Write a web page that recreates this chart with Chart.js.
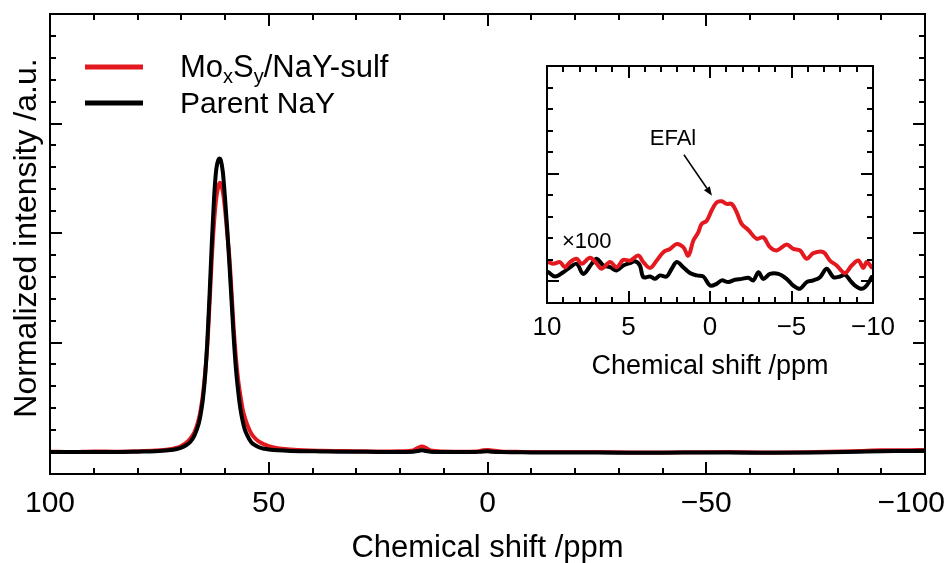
<!DOCTYPE html>
<html><head><meta charset="utf-8">
<script src="https://cdn.jsdelivr.net/npm/chart.js@4.4.0/dist/chart.umd.min.js"></script>
<style>
html,body{margin:0;padding:0;background:#fff;}
#wrap{position:relative;width:950px;height:563px;}
canvas{position:absolute;left:0;top:0;}
</style></head><body>
<div id="wrap"><canvas id="main" width="950" height="563"></canvas><canvas id="inset" width="950" height="563"></canvas></div>
<script>
// ---------- DATA ----------
const seriesNames = ['MoxSy/NaY-sulf', 'Parent NaY'];
// main spectrum: chemical shift (ppm)
const mainShift = [100, 95, 90, 85, 80, 76, 73, 71, 70, 69, 68, 67, 66, 65.5, 65, 64.5, 64, 63.5, 63, 62.5, 62, 61.5, 61.2, 61, 60.5, 60, 59.5, 59, 58.5, 58, 57.5, 57, 56.5, 56, 55.5, 55, 54, 53, 52, 51, 50, 48, 45, 42, 38, 34, 30, 25, 20, 17, 16, 15, 14, 13, 10, 5, 2, 1, 0, -1, -3, -8, -15, -25, -35, -45, -55, -65, -75, -85, -90, -95, -100];
const mainRed = [0.02, 0.0, 0.03, 0.02, 0.04, 0.07, 0.12, 0.2, 0.28, 0.4, 0.6, 0.9, 1.5, 2.0, 2.7, 3.7, 5.0, 6.9, 8.9, 10.5, 11.6, 12.15, 12.3, 12.25, 11.9, 11.1, 10.0, 8.9, 7.3, 5.6, 4.3, 3.3, 2.6, 2.0, 1.6, 1.3, 0.85, 0.6, 0.45, 0.35, 0.27, 0.18, 0.12, 0.08, 0.06, 0.05, 0.04, 0.03, 0.04, 0.08, 0.18, 0.26, 0.18, 0.07, 0.03, 0.02, 0.04, 0.08, 0.1, 0.07, 0.03, 0.01, 0.0, 0.0, -0.02, -0.01, 0.0, -0.02, 0.0, 0.05, 0.08, 0.08, 0.1];
const mainBlack = [0.0, 0.0, 0.01, 0.0, 0.02, 0.04, 0.08, 0.14, 0.2, 0.3, 0.45, 0.75, 1.3, 1.8, 2.5, 3.6, 5.2, 7.3, 9.6, 11.6, 12.9, 13.35, 13.4, 13.35, 12.8, 11.6, 10.2, 8.6, 6.9, 5.2, 3.8, 2.8, 2.0, 1.45, 1.05, 0.8, 0.45, 0.3, 0.2, 0.15, 0.12, 0.08, 0.05, 0.04, 0.03, 0.02, 0.02, 0.01, 0.01, 0.02, 0.05, 0.08, 0.05, 0.02, 0.0, 0.0, 0.01, 0.03, 0.04, 0.02, 0.0, -0.01, -0.02, -0.02, -0.03, -0.02, -0.02, -0.03, -0.02, 0.02, 0.04, 0.05, 0.06];
// inset (x100): red
const insetRedShift = [9.92, 9.61, 9.20, 8.90, 8.59, 8.18, 7.87, 7.36, 6.95, 6.65, 6.13, 5.73, 5.32, 4.91, 4.40, 4.09, 3.68, 3.27, 2.86, 2.45, 2.04, 1.64, 1.33, 1.02, 0.72, 0.51, 0.20, -0.10, -0.41, -0.72, -1.02, -1.33, -1.64, -1.94, -2.35, -2.86, -3.27, -3.68, -4.09, -4.70, -5.11, -5.52, -5.93, -6.34, -6.95, -7.36, -7.77, -8.28, -8.69, -9.10, -9.41, -9.61, -9.92];
const insetRed = [0.90, 0.82, 0.90, 0.66, 0.90, 1.05, 0.82, 1.10, 0.82, 0.59, 0.90, 0.66, 1.00, 0.97, 1.20, 0.90, 0.63, 0.97, 1.36, 1.51, 1.74, 1.59, 1.20, 1.90, 2.28, 2.67, 2.82, 3.29, 3.67, 3.72, 3.60, 3.60, 3.21, 2.67, 2.39, 1.98, 2.05, 1.59, 1.44, 1.71, 1.51, 1.44, 1.05, 1.31, 1.36, 0.97, 0.74, 0.39, 0.74, 0.97, 0.63, 0.90, 0.66];
// inset (x100): black
const insetBlackShift = [9.92, 9.51, 9.00, 8.59, 8.18, 7.77, 7.26, 6.95, 6.54, 6.13, 5.73, 5.32, 4.91, 4.60, 4.30, 4.09, 3.68, 3.37, 3.07, 2.66, 2.35, 2.04, 1.64, 1.23, 0.82, 0.41, 0.00, -0.41, -0.72, -1.12, -1.53, -1.94, -2.35, -2.66, -2.97, -3.27, -3.68, -4.19, -4.70, -5.11, -5.52, -5.93, -6.34, -6.75, -7.16, -7.57, -7.98, -8.28, -8.59, -8.90, -9.30, -9.61, -9.92];
const insetBlack = [0.43, 0.23, 0.43, 0.66, 0.82, 0.35, 0.82, 1.05, 0.74, 0.66, 0.51, 0.74, 0.85, 0.94, 0.74, 0.20, 0.23, 0.12, 0.28, 0.23, 0.59, 0.90, 0.66, 0.39, 0.28, 0.23, -0.19, -0.11, 0.05, -0.03, 0.08, 0.12, 0.17, 0.05, 0.43, 0.12, 0.35, 0.35, 0.12, -0.19, -0.34, -0.03, 0.05, 0.20, 0.59, 0.20, 0.23, 0.32, 0.05, -0.19, -0.34, -0.19, 0.20];
// tick labels
const mainXTicks = [100, 50, 0, -50, -100];
const insetXTicks = [10, 5, 0, -5, -10];
// annotations (inset data coords)
const efalLabel = {text: 'EFAl', x: 2.27, y: 6.34};
const efalArrow = {x0: 1.6, y0: 5.88, x1: -0.12, y1: 3.98};
const scaleLabel = {text: '\u00d7100', x: 9.08, y: 1.57};

const RED = '#e3191f', BLACK = '#000000';
const FONT = '"Liberation Sans", Arial, Helvetica, sans-serif';
const pairs = (xs, ys) => xs.map((v, i) => ({x: v, y: ys[i]}));
const fmt = v => String(v).replace('-', '\u2212');

function framePlugin(o) {
  return {
    id: 'frame_' + o.name,
    afterDatasetsDraw(chart) {
      const {ctx, chartArea: a} = chart;
      const x = chart.scales.x, y = chart.scales.y;
      ctx.save();
      ctx.strokeStyle = '#000'; ctx.lineWidth = 2; ctx.lineCap = 'butt';
      const seg = (x0, y0, x1, y1) => { ctx.beginPath(); ctx.moveTo(x0, y0); ctx.lineTo(x1, y1); ctx.stroke(); };
      let n = Math.round((x.max - x.min) / o.xMinor);
      for (let i = 1; i < n; i++) {
        const v = x.min + i * o.xMinor;
        const px = Math.round(x.getPixelForValue(v));
        const L = Math.abs(Math.round(v / o.xMajor) * o.xMajor - v) < 1e-6 ? 12 : 6;
        seg(px, a.bottom, px, a.bottom - L);
        seg(px, a.top, px, a.top + L);
      }
      n = Math.round((y.max - y.min) / o.yMinor);
      for (let i = 1; i < n; i++) {
        const v = y.min + i * o.yMinor;
        const py = Math.round(y.getPixelForValue(v));
        const L = Math.abs(Math.round(v / o.yMajor) * o.yMajor - v) < 1e-6 ? 12 : 6;
        seg(a.left, py, a.left + L, py);
        seg(a.right, py, a.right - L, py);
      }
      ctx.strokeRect(a.left, a.top, a.right - a.left, a.bottom - a.top);
      ctx.fillStyle = '#000';
      ctx.font = o.tickFont + 'px ' + FONT;
      ctx.textBaseline = 'alphabetic';
      o.xTicks.forEach(v => {
        const s = fmt(v);
        const w = ctx.measureText(s).width;
        let cx = x.getPixelForValue(v);
        if (cx + w / 2 > chart.width - 5) cx = chart.width - 5 - w / 2;
        ctx.textAlign = 'center';
        ctx.fillText(s, cx, a.bottom + o.tickGap);
      });
      ctx.font = o.titleFont + 'px ' + FONT;
      ctx.textAlign = 'center';
      ctx.fillText('Chemical shift /ppm', (a.left + a.right) / 2, a.bottom + o.titleGap);
      if (o.extra) o.extra(chart, ctx, x, y);
      ctx.restore();
    }
  };
}

function lineDs(label, xs, ys, color, smooth) {
  const d = {label, data: pairs(xs, ys), borderColor: color, backgroundColor: color, borderWidth: 4,
    pointRadius: 0, borderJoinStyle: 'round', borderCapStyle: 'round', fill: false};
  if (smooth === 'mono') d.cubicInterpolationMode = 'monotone'; else d.tension = 0.35;
  return d;
}

Chart.defaults.font.family = FONT;

new Chart(document.getElementById('main'), {
  type: 'line',
  data: {datasets: [
    lineDs(seriesNames[1], mainShift, mainBlack, BLACK, 'mono'),
    lineDs(seriesNames[0], mainShift, mainRed, RED, 'mono')
  ]},
  options: {
    responsive: false, animation: false, devicePixelRatio: 1,
    layout: {padding: {left: 50, top: 14, right: 25, bottom: 89}},
    plugins: {legend: {display: false}, tooltip: {enabled: false}},
    scales: {
      x: {type: 'linear', reverse: true, min: -100, max: 100, display: false},
      y: {type: 'linear', min: -1, max: 20, display: false}
    }
  },
  plugins: [framePlugin({name: 'main', xMinor: 10, xMajor: 50, yMinor: 1, yMajor: 5,
    xTicks: mainXTicks, tickFont: 30, tickGap: 38, titleFont: 31, titleGap: 83,
    extra(chart, ctx) {
      ctx.save();
      ctx.font = '32px ' + FONT;
      ctx.textAlign = 'center'; ctx.textBaseline = 'alphabetic';
      ctx.translate(36, 238); ctx.rotate(-Math.PI / 2);
      ctx.fillText('Normalized intensity /a.u.', 0, 0);
      ctx.restore();
      const rows = [{c: RED, y: 67, base: 77}, {c: BLACK, y: 103, base: 113}];
      ctx.lineWidth = 5; ctx.lineCap = 'butt';
      rows.forEach(r => { ctx.strokeStyle = r.c; ctx.beginPath(); ctx.moveTo(85, r.y); ctx.lineTo(143, r.y); ctx.stroke(); });
      ctx.fillStyle = '#000'; ctx.textAlign = 'left'; ctx.textBaseline = 'alphabetic';
      let cx = 180;
      const parts = [['Mo', 31, 0], ['x', 20, 6], ['S', 31, 0], ['y', 20, 6], ['/NaY-sulf', 31, 0]];
      parts.forEach(p => { ctx.font = p[1] + 'px ' + FONT; ctx.fillText(p[0], cx, rows[0].base + p[2]); cx += ctx.measureText(p[0]).width; });
      ctx.font = '30px ' + FONT;
      ctx.fillText(seriesNames[1], 180, rows[1].base);
    }
  })]
});

new Chart(document.getElementById('inset'), {
  type: 'line',
  data: {datasets: [
    lineDs(seriesNames[0], insetRedShift, insetRed, RED),
    lineDs(seriesNames[1], insetBlackShift, insetBlack, BLACK)
  ]},
  options: {
    responsive: false, animation: false, devicePixelRatio: 1,
    layout: {padding: {left: 547, top: 66, right: 77, bottom: 260}},
    plugins: {legend: {display: false}, tooltip: {enabled: false}},
    scales: {
      x: {type: 'linear', reverse: true, min: -10, max: 10, display: false},
      y: {type: 'linear', min: -1, max: 10, display: false}
    }
  },
  plugins: [framePlugin({name: 'inset', xMinor: 1, xMajor: 5, yMinor: 1, yMajor: 5,
    xTicks: insetXTicks, tickFont: 26, tickGap: 32, titleFont: 27, titleGap: 71,
    extra(chart, ctx, x, y) {
      ctx.fillStyle = '#000';
      ctx.font = '22px ' + FONT;
      ctx.textAlign = 'center'; ctx.textBaseline = 'alphabetic';
      ctx.fillText(efalLabel.text, x.getPixelForValue(efalLabel.x), y.getPixelForValue(efalLabel.y));
      ctx.textAlign = 'left';
      ctx.fillText(scaleLabel.text, x.getPixelForValue(scaleLabel.x), y.getPixelForValue(scaleLabel.y));
      const x0 = x.getPixelForValue(efalArrow.x0), y0 = y.getPixelForValue(efalArrow.y0);
      const x1 = x.getPixelForValue(efalArrow.x1), y1 = y.getPixelForValue(efalArrow.y1);
      const ang = Math.atan2(y1 - y0, x1 - x0);
      const hl = 9, hw = 3.5;
      ctx.strokeStyle = '#000'; ctx.lineWidth = 1.5;
      ctx.beginPath(); ctx.moveTo(x0, y0);
      ctx.lineTo(x1 - hl * Math.cos(ang), y1 - hl * Math.sin(ang)); ctx.stroke();
      ctx.beginPath();
      ctx.moveTo(x1, y1);
      ctx.lineTo(x1 - hl * Math.cos(ang) + hw * Math.sin(ang), y1 - hl * Math.sin(ang) - hw * Math.cos(ang));
      ctx.lineTo(x1 - hl * Math.cos(ang) - hw * Math.sin(ang), y1 - hl * Math.sin(ang) + hw * Math.cos(ang));
      ctx.closePath(); ctx.fill();
    }
  })]
});
</script>
</body></html>
